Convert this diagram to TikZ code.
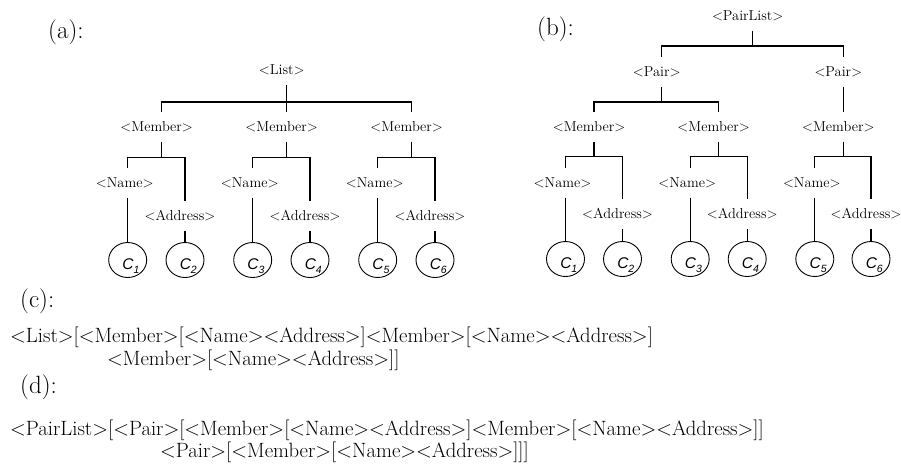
\documentclass[tikz,border=0pt]{standalone}
\usepackage{fontspec}
\newfontfamily\csans{Liberation Sans}
\usetikzlibrary{shapes.geometric}
\newcommand\cl[1]{{\csans\itshape\fontsize{15.5}{15.5}\selectfont C\raisebox{-3.5pt}{\fontsize{10.5}{10.5}\selectfont #1}}}
\tikzset{
  tn/.style={font=\fontsize{14.4}{14.4}\selectfont, text height=11pt, text depth=2pt, inner xsep=0pt, inner ysep=8.25pt},
  leaf/.style={ellipse, draw, line width=0.9pt, minimum width=38pt, minimum height=35pt, inner sep=0pt},
  br/.style={line width=1.1pt},
  lbl/.style={font=\fontsize{25}{25}\selectfont, anchor=base west, inner sep=0pt},
  seq/.style={font=\fontsize{20.7}{20.7}\selectfont, anchor=base west, inner sep=0pt},
  cl/.style={label={[inner sep=0pt, shift={(3.3pt,-6pt)}]center:\cl{#1}}}
}
\begin{document}
\begin{tikzpicture}[x=1pt,y=-1pt]
\useasboundingbox (0,0) rectangle (901,467);
\fill[white] (0,0) rectangle (901,467);

% ---------- labels ----------
\node[lbl] (la) at (48,38) {(a):};
\node[lbl] (lb) at (537,35) {(b):};
\node[lbl] (lc) at (20,307) {(c):};
\node[lbl] (ld) at (20,393) {(d):};

% ---------- tree (a) ----------
\node[tn] (L) at (281.7,70) {<List>};
\node[tn] (Ma1) at (156.7,126.7) {<Member>};
\node[tn] (Ma2) at (281.7,126.7) {<Member>};
\node[tn] (Ma3) at (406.7,126.7) {<Member>};
\node[tn] (Na1) at (124.7,183) {<Name>};
\node[tn] (Na2) at (249.7,183) {<Name>};
\node[tn] (Na3) at (374.7,183) {<Name>};
\node[tn] (Aa1) at (180,216) {<Address>};
\node[tn] (Aa2) at (305,216) {<Address>};
\node[tn] (Aa3) at (430,216) {<Address>};
\node[leaf, cl=1] (ca1) at (127.7,260) {};
\node[leaf, cl=2] (ca2) at (185,260) {};
\node[leaf, cl=3] (ca3) at (252.7,260) {};
\node[leaf, cl=4] (ca4) at (310,260) {};
\node[leaf, cl=5] (ca5) at (377.7,260) {};
\node[leaf, cl=6] (ca6) at (435,260) {};

\draw[br] ([xshift=5pt]L.south) -- ++(0,17) coordinate (La);
\foreach \m in {Ma1,Ma2,Ma3} \draw[br] (La) -| ([xshift=5pt]\m.north);
\foreach \m/\n/\a/\c/\d in {Ma1/Na1/Aa1/ca1/ca2, Ma2/Na2/Aa2/ca3/ca4, Ma3/Na3/Aa3/ca5/ca6}{
  \draw[br] ([xshift=5pt]\m.south) -- ++(0,16) coordinate (bar\m);
  \draw[br] (bar\m) -| ([xshift=3pt]\n.north);
  \draw[br] (bar\m) -| ([xshift=5pt]\a.north);
  \draw[br] ([xshift=3pt]\n.south) -- (\c.north);
  \draw[br] ([xshift=5pt]\a.south) -- (\d.north);
}

% ---------- tree (b) ----------
\node[tn] (PL) at (747.7,16) {<PairList>};
\node[tn] (P1) at (656.7,71.7) {<Pair>};
\node[tn] (P2) at (838.3,71.7) {<Pair>};
\node[tn] (Mb1) at (589,126.7) {<Member>};
\node[tn] (Mb2) at (713.7,126.7) {<Member>};
\node[tn] (Mb3) at (838.3,126.7) {<Member>};
\node[tn] (Nb1) at (562.5,182.7) {<Name>};
\node[tn] (Nb2) at (687.2,182.7) {<Name>};
\node[tn] (Nb3) at (811.8,182.7) {<Name>};
\node[tn] (Ab1) at (617.5,214) {<Address>};
\node[tn] (Ab2) at (742.2,214) {<Address>};
\node[tn] (Ab3) at (866,214) {<Address>};
\node[leaf, cl=1] (cb1) at (565.5,259) {};
\node[leaf, cl=2] (cb2) at (622.5,259) {};
\node[leaf, cl=3] (cb3) at (690.2,259) {};
\node[leaf, cl=4] (cb4) at (747.2,259) {};
\node[leaf, cl=5] (cb5) at (814.8,259) {};
\node[leaf, cl=6] (cb6) at (871,259) {};

\draw[br] ([xshift=5pt]PL.south) -- ++(0,15) coordinate (PLa);
\draw[br] (PLa) -| ([xshift=5pt]P1.north);
\draw[br] (PLa) -| ([xshift=5pt]P2.north);
\draw[br] ([xshift=5pt]P1.south) -- ++(0,15.3) coordinate (P1a);
\draw[br] (P1a) -| ([xshift=5pt]Mb1.north);
\draw[br] (P1a) -| ([xshift=5pt]Mb2.north);
\draw[br] ([xshift=5pt]P2.south) -- ([xshift=5pt]Mb3.north);
\foreach \m/\n/\a/\c/\d in {Mb1/Nb1/Ab1/cb1/cb2, Mb2/Nb2/Ab2/cb3/cb4, Mb3/Nb3/Ab3/cb5/cb6}{
  \draw[br] ([xshift=5pt]\m.south) -- ++(0,14.6) coordinate (bar\m);
  \draw[br] (bar\m) -| ([xshift=3pt]\n.north);
  \draw[br] (bar\m) -| ([xshift=5pt]\a.north);
  \draw[br] ([xshift=3pt]\n.south) -- (\c.north);
  \draw[br] ([xshift=5pt]\a.south) -- (\d.north);
}

% ---------- linear forms ----------
\node[seq] (c1) at (10,342) {<List>[<Member>[<Name><Address>]<Member>[<Name><Address>]};
\node[seq] (c2) at (107,365) {<Member>[<Name><Address>]]};
\node[seq] (d1) at (10,435) {<PairList>[<Pair>[<Member>[<Name><Address>]<Member>[<Name><Address>]]};
\node[seq] (d2) at (160,457) {<Pair>[<Member>[<Name><Address>]]]};
\end{tikzpicture}
\end{document}
